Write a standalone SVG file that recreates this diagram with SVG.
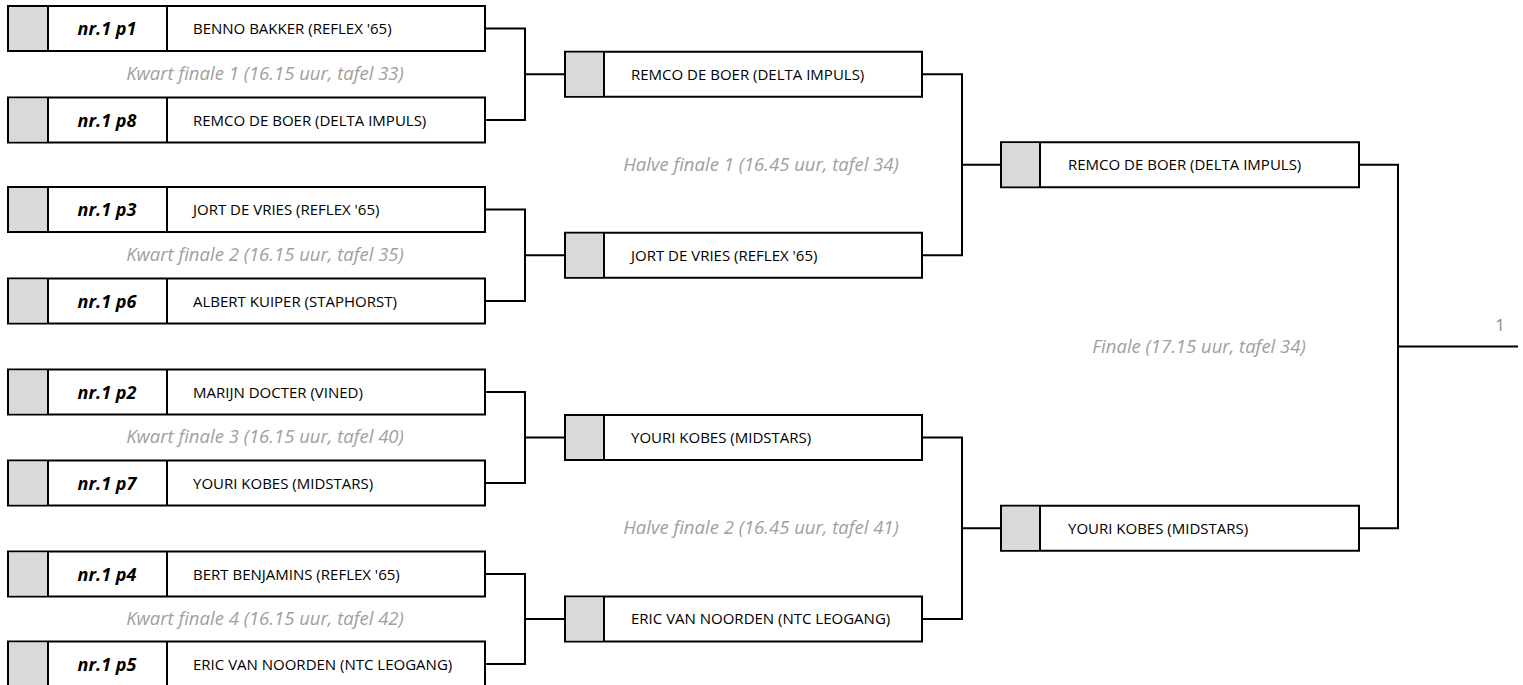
<svg xmlns="http://www.w3.org/2000/svg" width="1523" height="685" viewBox="0 0 1523 685">
<style>
.box{fill:#fff;stroke:#000;stroke-width:2}
.gray{fill:#d9d9d9;stroke:none}
.div{stroke:#000;stroke-width:2}
.name{font-family:"Open Sans","Noto Sans",sans-serif;font-size:15px;fill:#000}
.seed{font-family:"Open Sans","Noto Sans",sans-serif;font-size:18px;font-weight:bold;font-style:italic;fill:#000;text-anchor:middle}
.round{font-family:"Open Sans","Noto Sans",sans-serif;font-size:18.5px;font-style:italic;fill:#a0a0a0;text-anchor:middle}
.conn{fill:none;stroke:#000;stroke-width:2}
.place{font-family:"Open Sans","Noto Sans",sans-serif;font-size:17px;fill:#8c8c8c;text-anchor:middle}
</style>
<rect width="1523" height="685" fill="#fff"/>
<g id="connectors">
<path class="conn" d="M485,28.5H525V120H485M525,74.25H565"/>
<path class="conn" d="M485,209.5H525V301H485M525,255.25H565"/>
<path class="conn" d="M485,392H525V483H485M525,437.5H565"/>
<path class="conn" d="M485,574H525V664H485M525,619H565"/>
<path class="conn" d="M922,74.25H962V255.25H922M962,164.75H1001"/>
<path class="conn" d="M922,437.5H962V619H922M962,528.25H1001"/>
<path class="conn" d="M1359,164.75H1398V528.25H1359M1398,346.5H1518"/>
</g>
<g id="labels">
<text class="round" x="265" y="80">Kwart finale 1 (16.15 uur, tafel 33)</text>
<text class="round" x="265" y="261">Kwart finale 2 (16.15 uur, tafel 35)</text>
<text class="round" x="265" y="443">Kwart finale 3 (16.15 uur, tafel 40)</text>
<text class="round" x="265" y="625">Kwart finale 4 (16.15 uur, tafel 42)</text>
<text class="round" x="761" y="171">Halve finale 1 (16.45 uur, tafel 34)</text>
<text class="round" x="761" y="534">Halve finale 2 (16.45 uur, tafel 41)</text>
<text class="round" x="1199" y="353">Finale (17.15 uur, tafel 34)</text>
<text class="place" x="1500" y="331">1</text>
</g>
<g id="qf-p1"><rect class="box" x="8" y="6" width="477" height="45"/><rect class="gray" x="9" y="7" width="39" height="43"/><line class="div" x1="48" y1="6" x2="48" y2="51"/><line class="div" x1="167" y1="6" x2="167" y2="51"/><text class="seed" x="107" y="35">nr.1 p1</text><text class="name" x="193" y="34">BENNO BAKKER (REFLEX '65)</text></g>
<g id="qf-p8"><rect class="box" x="8" y="97.5" width="477" height="45"/><rect class="gray" x="9" y="98.5" width="39" height="43"/><line class="div" x1="48" y1="97.5" x2="48" y2="142.5"/><line class="div" x1="167" y1="97.5" x2="167" y2="142.5"/><text class="seed" x="107" y="126.5">nr.1 p8</text><text class="name" x="193" y="125.5">REMCO DE BOER (DELTA IMPULS)</text></g>
<g id="qf-p3"><rect class="box" x="8" y="187" width="477" height="45"/><rect class="gray" x="9" y="188" width="39" height="43"/><line class="div" x1="48" y1="187" x2="48" y2="232"/><line class="div" x1="167" y1="187" x2="167" y2="232"/><text class="seed" x="107" y="216">nr.1 p3</text><text class="name" x="193" y="215">JORT DE VRIES (REFLEX '65)</text></g>
<g id="qf-p6"><rect class="box" x="8" y="278.5" width="477" height="45"/><rect class="gray" x="9" y="279.5" width="39" height="43"/><line class="div" x1="48" y1="278.5" x2="48" y2="323.5"/><line class="div" x1="167" y1="278.5" x2="167" y2="323.5"/><text class="seed" x="107" y="307.5">nr.1 p6</text><text class="name" x="193" y="306.5">ALBERT KUIPER (STAPHORST)</text></g>
<g id="qf-p2"><rect class="box" x="8" y="369.5" width="477" height="45"/><rect class="gray" x="9" y="370.5" width="39" height="43"/><line class="div" x1="48" y1="369.5" x2="48" y2="414.5"/><line class="div" x1="167" y1="369.5" x2="167" y2="414.5"/><text class="seed" x="107" y="398.5">nr.1 p2</text><text class="name" x="193" y="397.5">MARIJN DOCTER (VINED)</text></g>
<g id="qf-p7"><rect class="box" x="8" y="460.5" width="477" height="45"/><rect class="gray" x="9" y="461.5" width="39" height="43"/><line class="div" x1="48" y1="460.5" x2="48" y2="505.5"/><line class="div" x1="167" y1="460.5" x2="167" y2="505.5"/><text class="seed" x="107" y="489.5">nr.1 p7</text><text class="name" x="193" y="488.5">YOURI KOBES (MIDSTARS)</text></g>
<g id="qf-p4"><rect class="box" x="8" y="551.5" width="477" height="45"/><rect class="gray" x="9" y="552.5" width="39" height="43"/><line class="div" x1="48" y1="551.5" x2="48" y2="596.5"/><line class="div" x1="167" y1="551.5" x2="167" y2="596.5"/><text class="seed" x="107" y="580.5">nr.1 p4</text><text class="name" x="193" y="579.5">BERT BENJAMINS (REFLEX '65)</text></g>
<g id="qf-p5"><rect class="box" x="8" y="641.5" width="477" height="45"/><rect class="gray" x="9" y="642.5" width="39" height="43"/><line class="div" x1="48" y1="641.5" x2="48" y2="686.5"/><line class="div" x1="167" y1="641.5" x2="167" y2="686.5"/><text class="seed" x="107" y="670.5">nr.1 p5</text><text class="name" x="193" y="669.5">ERIC VAN NOORDEN (NTC LEOGANG)</text></g>
<g id="sf-1"><rect class="box" x="565" y="51.75" width="357" height="45"/><rect class="gray" x="566" y="52.75" width="38" height="43"/><line class="div" x1="604" y1="51.75" x2="604" y2="96.75"/><text class="name" x="631" y="79.5">REMCO DE BOER (DELTA IMPULS)</text></g>
<g id="sf-2"><rect class="box" x="565" y="232.75" width="357" height="45"/><rect class="gray" x="566" y="233.75" width="38" height="43"/><line class="div" x1="604" y1="232.75" x2="604" y2="277.75"/><text class="name" x="631" y="260.5">JORT DE VRIES (REFLEX '65)</text></g>
<g id="sf-3"><rect class="box" x="565" y="415" width="357" height="45"/><rect class="gray" x="566" y="416" width="38" height="43"/><line class="div" x1="604" y1="415" x2="604" y2="460"/><text class="name" x="631" y="442.5">YOURI KOBES (MIDSTARS)</text></g>
<g id="sf-4"><rect class="box" x="565" y="596.5" width="357" height="45"/><rect class="gray" x="566" y="597.5" width="38" height="43"/><line class="div" x1="604" y1="596.5" x2="604" y2="641.5"/><text class="name" x="631" y="624">ERIC VAN NOORDEN (NTC LEOGANG)</text></g>
<g id="f-1"><rect class="box" x="1001" y="142.25" width="358" height="45"/><rect class="gray" x="1002" y="143.25" width="38" height="43"/><line class="div" x1="1040" y1="142.25" x2="1040" y2="187.25"/><text class="name" x="1068" y="170">REMCO DE BOER (DELTA IMPULS)</text></g>
<g id="f-2"><rect class="box" x="1001" y="505.75" width="358" height="45"/><rect class="gray" x="1002" y="506.75" width="38" height="43"/><line class="div" x1="1040" y1="505.75" x2="1040" y2="550.75"/><text class="name" x="1068" y="533.5">YOURI KOBES (MIDSTARS)</text></g>
</svg>
